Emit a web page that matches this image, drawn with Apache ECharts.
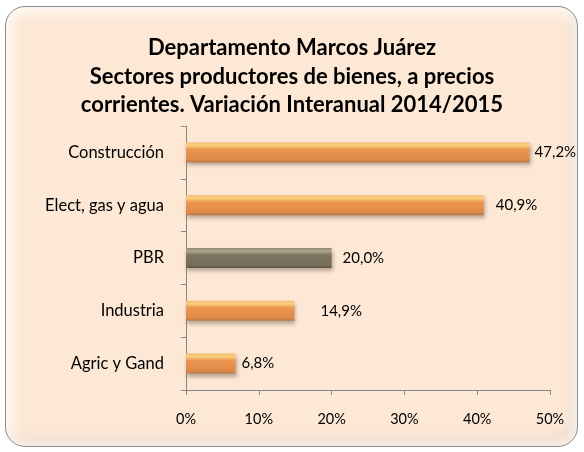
<!DOCTYPE html>
<html>
<head>
<meta charset="utf-8">
<script src="https://cdn.jsdelivr.net/npm/echarts@6/dist/echarts.min.js"></script>
<style>
  html, body { margin: 0; padding: 0; background: #fff; }
  .frame {
    position: absolute;
    left: 5px; top: 6px;
    width: 571px; height: 439px;
    border: 1px solid #8c8c8c;
    border-radius: 20px;
    background: #fde8d6;
    box-shadow: inset 0 0 12px 6px rgba(255,255,255,0.75), inset -6px -8px 10px rgba(150,120,100,0.25);
  }
  #chart { position: absolute; left: 0; top: 0; width: 584px; height: 452px; }
</style>
</head>
<body>
<div class="frame"></div>
<div id="chart"></div>
<script>
const categories = ['Agric y Gand', 'Industria', 'PBR', 'Elect, gas y agua', 'Construcción']
const values = [6.8, 14.9, 20.0, 40.9, 47.2]
const xTicks = [0, 10, 20, 30, 40, 50]

const chart = echarts.init(document.getElementById('chart'))

const orange = new echarts.graphic.LinearGradient(0, 0, 0, 1, [
  { offset: 0, color: '#f6b870' },
  { offset: 0.15, color: '#fbd27e' },
  { offset: 0.35, color: '#eb9550' },
  { offset: 0.85, color: '#df8a48' },
  { offset: 1, color: '#b97a4a' }
])
const grey = new echarts.graphic.LinearGradient(0, 0, 0, 1, [
  { offset: 0, color: '#8f8770' },
  { offset: 0.15, color: '#b0a78c' },
  { offset: 0.35, color: '#7d7560' },
  { offset: 0.85, color: '#746d59' },
  { offset: 1, color: '#5c5646' }
])
const labelGaps = [6, 26, 11, 12, 5]

const option = {
  animation: false,
  title: {
    text: 'Departamento Marcos Juárez\nSectores productores de bienes, a precios\ncorrientes. Variación Interanual 2014/2015',
    left: 'center',
    top: 29,
    textStyle: {
      fontFamily: 'Lato',
      fontSize: 22,
      fontWeight: 'bold',
      color: '#000',
      lineHeight: 28.5
    }
  },
  grid: { left: 186, right: 34, top: 126, bottom: 62 },
  xAxis: {
    type: 'value',
    min: 0,
    max: 50,
    interval: 10,
    axisLine: { show: true, lineStyle: { color: '#868686' } },
    axisTick: { show: true, length: 5, lineStyle: { color: '#868686' } },
    splitLine: { show: false },
    axisLabel: {
      margin: 22,
      fontFamily: 'Lato',
      fontSize: 14.5,
      color: '#000',
      formatter: v => (xTicks.includes(v) ? v + '%' : '')
    }
  },
  yAxis: {
    type: 'category',
    data: categories,
    axisLine: { lineStyle: { color: '#868686' } },
    axisTick: { show: true, length: 5, lineStyle: { color: '#868686' } },
    axisLabel: {
      margin: 22,
      fontFamily: 'Lato',
      fontSize: 16.5,
      color: '#000'
    }
  },
  series: [{
    type: 'bar',
    barWidth: 20,
    data: values.map((v, i) => ({
      value: v,
      itemStyle: { color: categories[i] === 'PBR' ? grey : orange },
      label: { distance: labelGaps[i] }
    })),
    itemStyle: {
      shadowColor: 'rgba(60,40,20,0.35)',
      shadowBlur: 4,
      shadowOffsetY: 3,
      shadowOffsetX: 1
    },
    label: {
      show: true,
      position: 'right',
      fontFamily: 'Lato',
      fontSize: 15,
      color: '#000',
      formatter: p => p.value.toFixed(1).replace('.', ',') + '%'
    }
  }]
}

chart.setOption(option)
</script>
</body>
</html>
